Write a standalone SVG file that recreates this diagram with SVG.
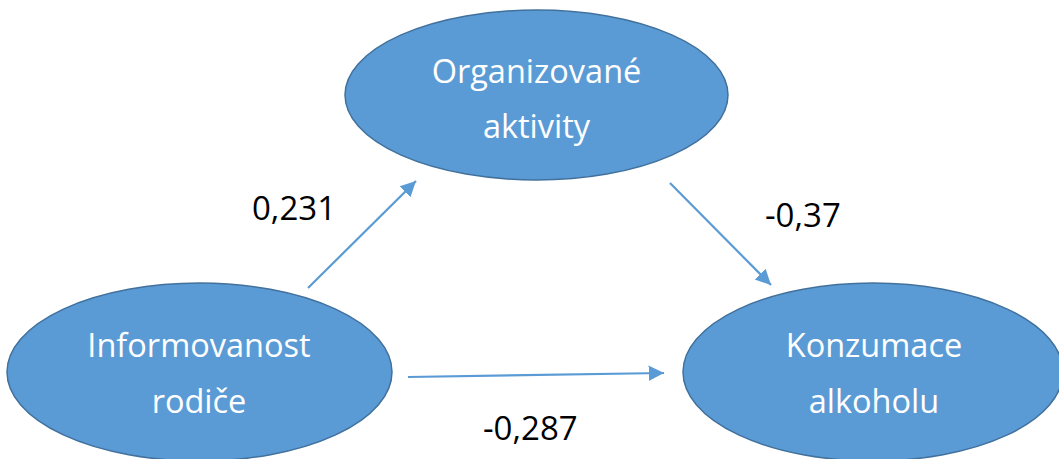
<svg xmlns="http://www.w3.org/2000/svg" width="1059" height="459" viewBox="0 0 1059 459">
<style>
.node{fill:#5B9BD5;stroke:#41719C;stroke-width:1.5}
.nt{font-family:"Open Sans","Liberation Sans",sans-serif;font-size:32.5px;fill:#ffffff;text-anchor:middle}
.lb{font-family:"Open Sans","Liberation Sans",sans-serif;font-size:33px;fill:#000000}
.edge{stroke:#5B9BD5;stroke-width:2.2;fill:none;marker-end:url(#ah)}
</style>
<defs>
<marker id="ah" markerWidth="8" markerHeight="8" refX="7" refY="4" orient="auto" markerUnits="strokeWidth">
<path d="M0,0.5 L7,4 L0,7.5 Z" fill="#5B9BD5"/>
</marker>
</defs>
<rect width="1059" height="459" fill="#ffffff"/>
<g id="connectors">
<line class="edge" x1="308" y1="288" x2="416" y2="181"/>
<line class="edge" x1="670" y1="183" x2="771" y2="285"/>
<line class="edge" x1="408" y1="377" x2="664" y2="373"/>
</g>
<g id="node-organizovane">
<ellipse class="node" cx="536.5" cy="95" rx="191.5" ry="85"/>
<text class="nt" x="536.5" y="83">Organizované</text>
<text class="nt" x="536.5" y="138">aktivity</text>
</g>
<g id="node-informovanost">
<ellipse class="node" cx="199.5" cy="372" rx="192.5" ry="89"/>
<text class="nt" x="199" y="357">Informovanost</text>
<text class="nt" x="199" y="413">rodiče</text>
</g>
<g id="node-konzumace">
<ellipse class="node" cx="873" cy="372" rx="190" ry="89"/>
<text class="nt" x="874" y="357">Konzumace</text>
<text class="nt" x="874" y="413">alkoholu</text>
</g>
<g id="labels">
<text class="lb" x="252" y="220">0,231</text>
<text class="lb" x="765" y="227">-0,37</text>
<text class="lb" x="483" y="440">-0,287</text>
</g>
</svg>
